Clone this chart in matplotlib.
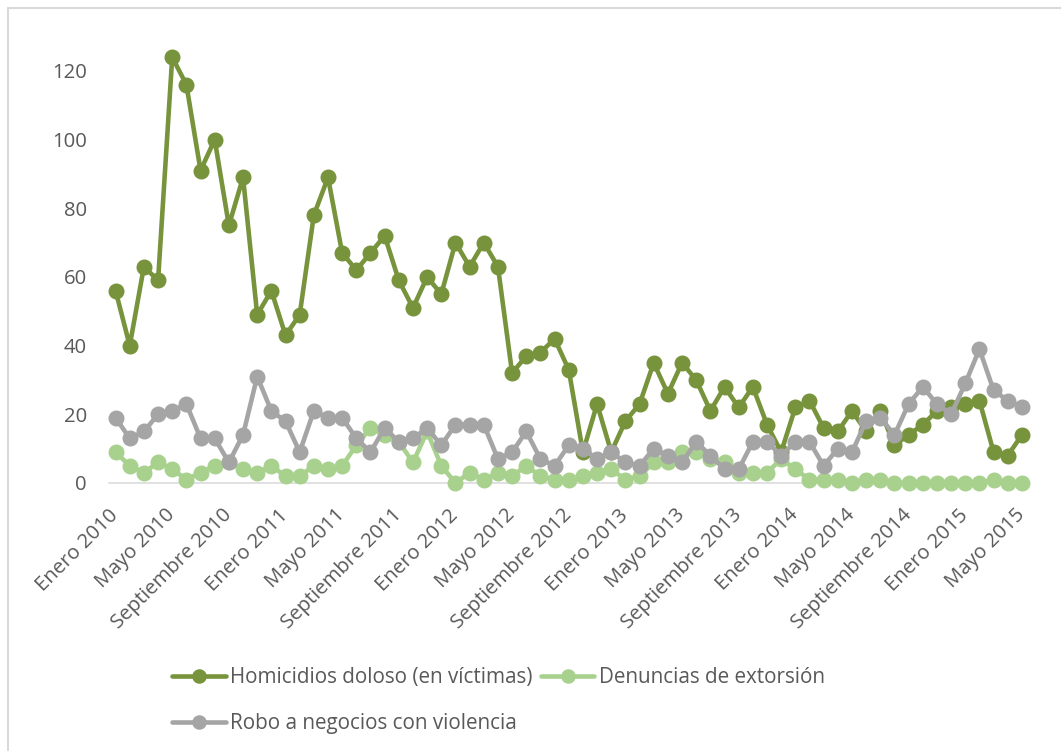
import matplotlib
matplotlib.use("Agg")
import matplotlib.pyplot as plt
from matplotlib.patches import Rectangle

plt.rcParams['font.family'] = ['Open Sans', 'DejaVu Sans']

# Monthly series, Enero 2010 - Mayo 2015
meses = ["Enero", "Febrero", "Marzo", "Abril", "Mayo", "Junio", "Julio",
         "Agosto", "Septiembre", "Octubre", "Noviembre", "Diciembre"]
periodos = [f"{meses[i % 12]} {2010 + i // 12}" for i in range(65)]

homicidios = [56, 40, 63, 59, 124, 116, 91, 100, 75, 89, 49, 56,
              43, 49, 78, 89, 67, 62, 67, 72, 59, 51, 60, 55,
              70, 63, 70, 63, 32, 37, 38, 42, 33, 9, 23, 9,
              18, 23, 35, 26, 35, 30, 21, 28, 22, 28, 17, 9,
              22, 24, 16, 15, 21, 15, 21, 11, 14, 17, 21, 22,
              23, 24, 9, 8, 14]
extorsion = [9, 5, 3, 6, 4, 1, 3, 5, 6, 4, 3, 5,
             2, 2, 5, 4, 5, 11, 16, 14, 12, 6, 15, 5,
             0, 3, 1, 3, 2, 5, 2, 1, 1, 2, 3, 4,
             1, 2, 6, 6, 9, 9, 7, 6, 3, 3, 3, 7,
             4, 1, 1, 1, 0, 1, 1, 0, 0, 0, 0, 0,
             0, 0, 1, 0, 0]
robo = [19, 13, 15, 20, 21, 23, 13, 13, 6, 14, 31, 21,
        18, 9, 21, 19, 19, 13, 9, 16, 12, 13, 16, 11,
        17, 17, 17, 7, 9, 15, 7, 5, 11, 10, 7, 9,
        6, 5, 10, 8, 6, 12, 8, 4, 4, 12, 12, 8,
        12, 12, 5, 10, 9, 18, 19, 14, 23, 28, 23, 20,
        29, 39, 27, 24, 22]

yticks = [0, 20, 40, 60, 80, 100, 120]

c_hom = "#77933C"
c_ext = "#A9D18E"
c_rob = "#A5A5A5"
c_txt = "#595959"

W, H = 1061, 751
fig = plt.figure(figsize=(W / 100, H / 100), dpi=100)
ax = fig.add_axes([108.5 / W, 1 - 483 / H, (1029 - 108.5) / W, (483 - 43.5) / H])

x = list(range(len(periodos)))
style = dict(linewidth=3.3, marker='o', markersize=10.5, clip_on=False,
             solid_joinstyle='round', solid_capstyle='round')
l_hom, = ax.plot(x, homicidios, color=c_hom, label="Homicidios doloso (en víctimas)", zorder=3, **style)
l_ext, = ax.plot(x, extorsion, color=c_ext, label="Denuncias de extorsión", zorder=4, **style)
l_rob, = ax.plot(x, robo, color=c_rob, label="Robo a negocios con violencia", zorder=5, **style)

ax.set_xlim(-0.5, len(periodos) - 0.5)
ax.set_ylim(0, 128)
ax.set_yticks(yticks)
ax.set_xticks(x[::4])
ax.set_xticklabels(periodos[::4], rotation=45, ha='right', va='center',
                   rotation_mode='anchor')

for s in ['top', 'right', 'left']:
    ax.spines[s].set_visible(False)
ax.spines['bottom'].set_color("#D9D9D9")
ax.spines['bottom'].set_linewidth(1.1)
ax.spines['bottom'].set_zorder(1)
ax.tick_params(axis='both', length=0, labelsize=14.6, labelcolor=c_txt)
ax.tick_params(axis='y', pad=15.5)
ax.tick_params(axis='x', pad=21)

fig.legend([l_hom, l_rob, l_ext],
           [l_hom.get_label(), l_rob.get_label(), l_ext.get_label()],
           ncol=2, loc='upper left', bbox_to_anchor=(172 / W, 1 - 667 / H),
           frameon=False, fontsize=14.9, labelcolor=c_txt,
           handlelength=2.6, handletextpad=0.2, columnspacing=0.4,
           labelspacing=1.2, borderpad=0, borderaxespad=0, markerscale=0.9)

# chart border (only the top and left edges fall inside the image)
fig.patches.append(Rectangle((7.5 / W, -0.1), 1.2, 1 - 7.5 / H + 0.1,
                             transform=fig.transFigure, fill=False,
                             edgecolor="#D9D9D9", linewidth=1.5, zorder=0))

fig.savefig("out.png", dpi=100)
